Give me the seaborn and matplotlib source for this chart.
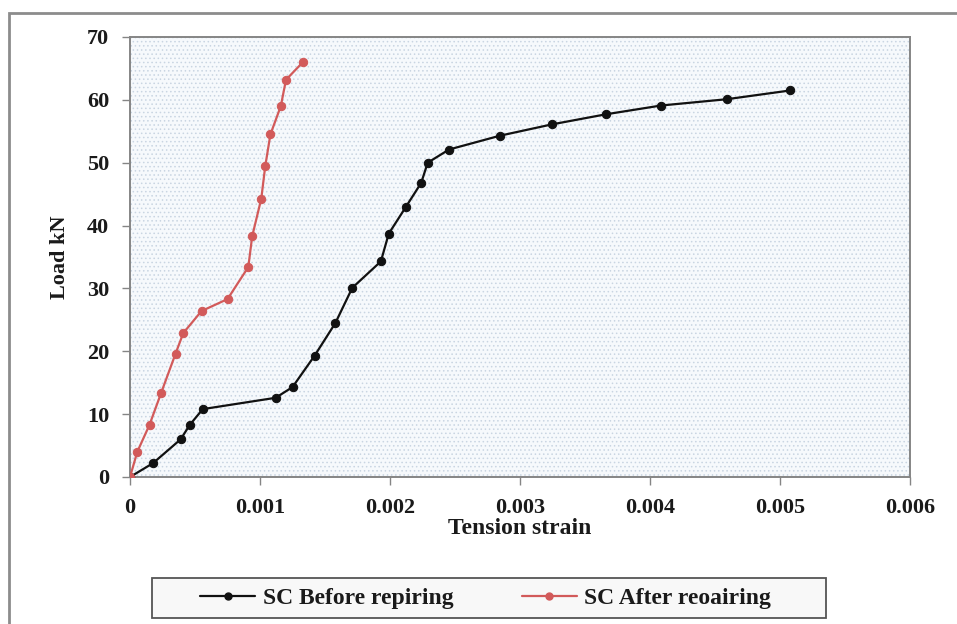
import matplotlib
matplotlib.use("Agg")
import matplotlib.pyplot as plt
import matplotlib.patches as mpatches
from matplotlib.lines import Line2D
import seaborn as sns
import pandas as pd

# Load versus tension strain, before and after repair
strain_before = [0.0, 0.000177, 0.00039, 0.00046, 0.00056, 0.00112, 0.00125,
                 0.00142, 0.00158, 0.00171, 0.00193, 0.00199, 0.00212, 0.00224,
                 0.00229, 0.002454, 0.002846, 0.003246, 0.00366, 0.004085,
                 0.00459, 0.00508]
load_before = [0.0, 2.2, 6.0, 8.3, 10.8, 12.6, 14.3, 19.3, 24.5, 30.1, 34.3,
               38.7, 42.9, 46.8, 50.0, 52.1, 54.3, 56.1, 57.7, 59.1, 60.1, 61.5]

strain_after = [0.0, 0.000056, 0.00015, 0.00024, 0.00035, 0.00041, 0.00055,
                0.00075, 0.00091, 0.00094, 0.00101, 0.00104, 0.00108, 0.00116,
                0.0012, 0.00133]
load_after = [0.0, 4.0, 8.3, 13.4, 19.6, 22.9, 26.4, 28.3, 33.4, 38.3, 44.3,
              49.4, 54.5, 59.0, 63.2, 66.0]

label_before = "SC Before repiring"
label_after = "SC After reoairing"
x_ticks = [0, 0.001, 0.002, 0.003, 0.004, 0.005, 0.006]
x_tick_labels = ["0", "0.001", "0.002", "0.003", "0.004", "0.005", "0.006"]
y_ticks = [0, 10, 20, 30, 40, 50, 60, 70]

sns.set_theme(style="white")
plt.rcParams["font.family"] = ["Liberation Serif", "DejaVu Serif"]
plt.rcParams["font.weight"] = "bold"
plt.rcParams["hatch.linewidth"] = 0.6
plt.rcParams["hatch.color"] = "#c9d5e2"

black = "#111111"
red = "#d25a5a"
text_color = "#1a1a1a"

fig = plt.figure(figsize=(9.57, 6.24), dpi=100)
ax = fig.add_axes([130 / 957, 1 - 477 / 624, 780 / 957, 440 / 624])

# dotted light-blue plot background
ax.set_facecolor("#f6f9fc")
ax.add_patch(mpatches.Rectangle((0, 0), 1, 1, transform=ax.transAxes,
                                facecolor="none", edgecolor="#c9d5e2",
                                hatch="....", linewidth=0, zorder=0))

df_before = pd.DataFrame({"strain": strain_before, "load": load_before})
df_after = pd.DataFrame({"strain": strain_after, "load": load_after})

sns.lineplot(data=df_before, x="strain", y="load", ax=ax, color=black,
             marker="o", markersize=6, markeredgecolor=black, linewidth=1.6,
             sort=False, estimator=None, zorder=3)
sns.lineplot(data=df_after, x="strain", y="load", ax=ax, color=red,
             marker="o", markersize=6, markeredgecolor=red, linewidth=1.6,
             sort=False, estimator=None, zorder=4)

ax.set_xlim(0, 0.006)
ax.set_ylim(0, 70)
ax.set_xticks(x_ticks)
ax.set_xticklabels(x_tick_labels)
ax.set_yticks(y_ticks)

for side in ["left", "bottom", "top", "right"]:
    ax.spines[side].set_visible(True)
    ax.spines[side].set_color("#858585")
    ax.spines[side].set_linewidth(1.4)

ax.tick_params(axis="both", which="both", direction="out", length=6,
               width=1, color="#858585", labelsize=16, pad=9,
               bottom=True, left=True)
for lab in ax.get_xticklabels() + ax.get_yticklabels():
    lab.set_fontweight("bold")
    lab.set_color(text_color)

ax.set_xlabel("Tension strain", fontsize=17, fontweight="bold",
              color=text_color, labelpad=0)
ax.set_ylabel("Load kN", fontsize=16, fontweight="bold",
              color=text_color, labelpad=12)

# legend box drawn as a figure rectangle, entries placed inside it
fig.patches.append(mpatches.Rectangle((152 / 957, 1 - 618 / 624),
                                      674 / 957, 40 / 624,
                                      transform=fig.transFigure,
                                      facecolor="#f8f8f8", edgecolor="#555555",
                                      linewidth=1.3))
handles = [
    Line2D([], [], color=black, marker="o", markersize=5, linewidth=1.6),
    Line2D([], [], color=red, marker="o", markersize=5, linewidth=1.6),
]
leg = fig.legend(handles, [label_before, label_after], ncol=2,
                 loc="center left", bbox_to_anchor=(200 / 957, 1 - 598 / 624),
                 prop={"family": "Liberation Serif", "weight": "bold", "size": 17},
                 frameon=False, handlelength=2.35, handletextpad=0.3,
                 columnspacing=2.9, borderpad=0, borderaxespad=0)
for t in leg.get_texts():
    t.set_color(text_color)

# grey outer frame of the figure
fig.patches.append(mpatches.Rectangle((9 / 957, -0.1), 1.2, 1 - 13 / 624 + 0.1,
                                      transform=fig.transFigure, fill=False,
                                      edgecolor="#8c8c8c", linewidth=2))

fig.savefig("out.png", dpi=100, facecolor="white")
